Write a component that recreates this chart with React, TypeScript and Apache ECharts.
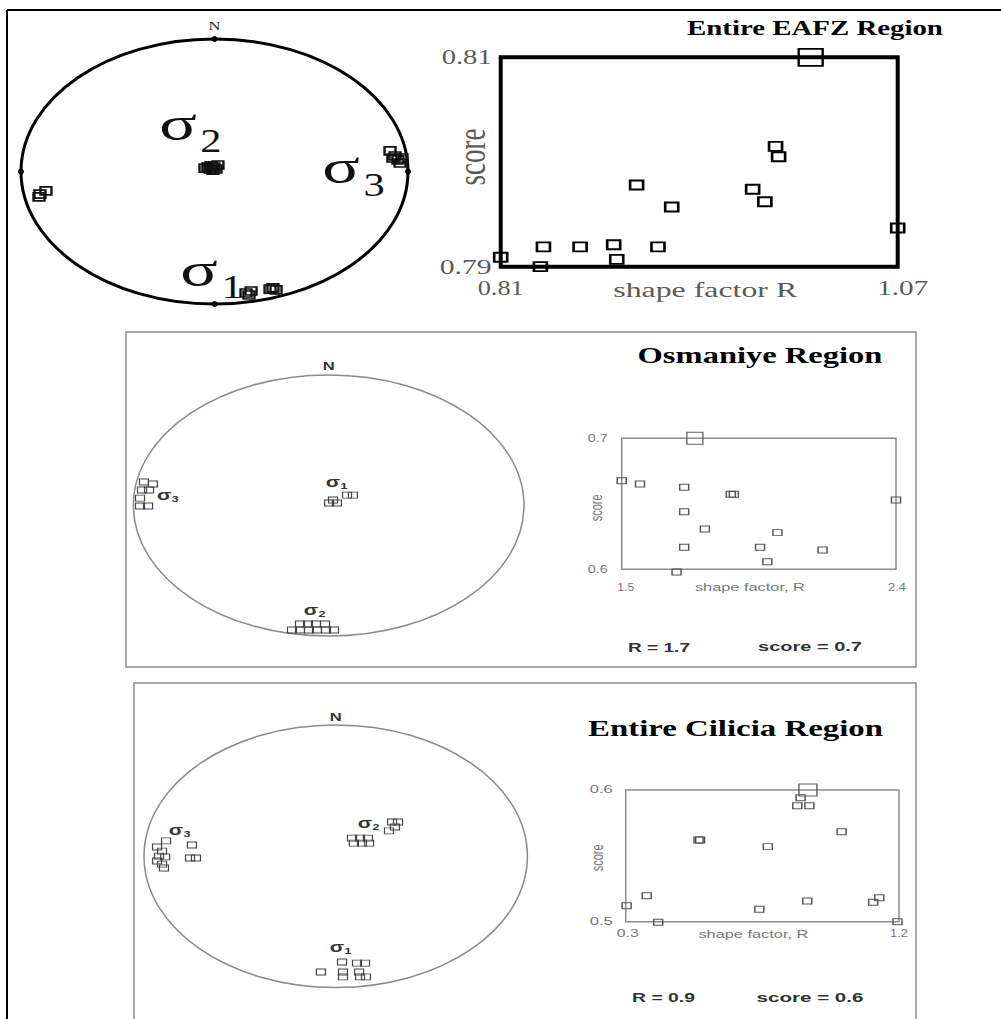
import React, { useEffect, useRef } from "react";
import * as echarts from "echarts";

// ---------------- Data ----------------
// Entire EAFZ Region: stress-inversion trials, shape factor R vs. score
const eafzR = [0.81, 0.836, 0.838, 0.862, 0.884, 0.886, 0.913, 0.899, 0.922, 0.975, 0.983, 0.99, 0.992, 1.07];
const eafzScore = [0.7909, 0.79, 0.7919, 0.7919, 0.7921, 0.7907, 0.7919, 0.7978, 0.7957, 0.7974, 0.7962, 0.8015, 0.8005, 0.7937];
const eafzBest = [1.013, 0.81];
const eafzXTicks = [0.81, 1.07];
const eafzYTicks = [0.79, 0.81];

// EAFZ stereonet: principal stress axes (net coordinates, x = east, y = north)
const eafzSigma1 = [[0.163, -0.917], [0.189, -0.902], [0.178, -0.932], [0.287, -0.887], [0.318, -0.894], [0.302, -0.879]];
const eafzSigma2 = [[-0.049, 0.026], [-0.034, 0.034], [-0.018, 0.042], [-0.003, 0.034], [0.018, 0.049], [0.008, 0.019], [-0.023, 0.019], [-0.008, 0.011]];
const eafzSigma3 = [[0.907, 0.155], [0.933, 0.117], [0.948, 0.087], [0.959, 0.064], [0.922, 0.102], [0.969, 0.102], [-0.907, -0.192], [-0.871, -0.147], [-0.902, -0.17]];

// Osmaniye Region
const osmR = [1.5, 1.56, 1.705, 1.705, 1.705, 1.68, 1.773, 1.858, 1.868, 1.954, 1.978, 2.011, 2.159, 2.4];
const osmScore = [0.6676, 0.6651, 0.6626, 0.644, 0.6168, 0.598, 0.6308, 0.6573, 0.6573, 0.6168, 0.6058, 0.628, 0.6147, 0.6529];
const osmBest = [1.74, 0.7];
const osmXTicks = [1.5, 2.4];
const osmYTicks = [0.6, 0.7];

const osmSigma1 = [[0.094, 0.08], [0.124, 0.08], [0.002, 0.019], [0.042, 0.019], [0.022, 0.042]];
const osmSigma2 = [[-0.147, -0.908], [-0.106, -0.908], [-0.065, -0.908], [-0.019, -0.908], [-0.188, -0.954], [-0.147, -0.954], [-0.101, -0.954], [-0.06, -0.954], [-0.014, -0.954], [0.027, -0.954]];
const osmSigma3 = [[-0.946, 0.18], [-0.9, 0.165], [-0.956, 0.119], [-0.92, 0.119], [-0.966, 0.057], [-0.966, -0.004], [-0.925, -0.004]];

// Entire Cilicia Region
const cilR = [0.303, 0.369, 0.407, 0.54, 0.545, 0.74, 0.768, 0.876, 0.865, 0.905, 0.898, 1.011, 1.115, 1.135, 1.195];
const cilScore = [0.5121, 0.5197, 0.4995, 0.562, 0.562, 0.5094, 0.557, 0.5942, 0.588, 0.588, 0.5157, 0.5683, 0.5147, 0.5182, 0.5];
const cilBest = [0.9, 0.6];
const cilXTicks = [0.3, 1.2];
const cilYTicks = [0.5, 0.6];

const cilSigma1 = [[-0.077, -0.881], [0.033, -0.805], [0.111, -0.813], [0.153, -0.813], [0.038, -0.881], [0.122, -0.881], [0.038, -0.919], [0.127, -0.919], [0.158, -0.919]];
const cilSigma2 = [[0.085, 0.139], [0.127, 0.139], [0.168, 0.139], [0.095, 0.101], [0.137, 0.101], [0.174, 0.101], [0.294, 0.261], [0.325, 0.261], [0.309, 0.223], [0.278, 0.193]];
const cilSigma3 = [[-0.885, 0.117], [-0.932, 0.071], [-0.906, 0.04], [-0.922, 0.002], [-0.89, -0.005], [-0.932, -0.036], [-0.906, -0.059], [-0.896, -0.089], [-0.75, 0.086], [-0.76, -0.013], [-0.729, -0.013]];

// ---------------- Layout ----------------
const SERIF = '"Liberation Serif", "Times New Roman", serif';
const SANS = '"Liberation Sans", Arial, sans-serif';

type Net = { cx: number; cy: number; rx: number; ry: number };
type Box = { left: number; top: number; width: number; height: number };

const netEafz: Net = { cx: 214.5, cy: 171.5, rx: 193.5, ry: 132.5 };
const netOsm: Net = { cx: 328.7, cy: 505.5, rx: 195.3, ry: 130.5 };
const netCil: Net = { cx: 335.7, cy: 856.3, rx: 191.7, ry: 131.3 };

const boxEafz: Box = { left: 500.7, top: 57.3, width: 397, height: 209.4 };
const boxOsm: Box = { left: 621.7, top: 438.3, width: 274.3, height: 131 };
const boxCil: Box = { left: 625.7, top: 790, width: 273.3, height: 131.7 };

// sigma label anchors in net coordinates
const eafzLabelAt: [string, number, number][] = [["1", -0.08, -0.781], ["2", -0.189, 0.321], ["3", 0.654, -0.004]];
const osmLabelAt: [string, number, number][] = [["1", 0.022, 0.18], ["2", -0.091, -0.801], ["3", -0.843, 0.08]];
const cilLabelAt: [string, number, number][] = [["1", 0.007, -0.691], ["2", 0.153, 0.254], ["3", -0.833, 0.2]];

let measureCtx: CanvasRenderingContext2D | null = null;
function textWidth(text: string, font: string): number {
  if (!measureCtx) measureCtx = document.createElement("canvas").getContext("2d");
  if (!measureCtx) return 0;
  measureCtx.font = font;
  return measureCtx.measureText(text).width;
}

function txt(
  text: string,
  x: number,
  y: number,
  font: string,
  fill: string,
  opts: { width?: number; sx?: number; align?: string; rotate?: number; stretch?: number } = {}
): any {
  const align = opts.align || "center";
  let sx = opts.sx || 1;
  if (opts.width) {
    const w = textWidth(text, font);
    if (w > 0) sx = opts.width / w;
  }
  const rot = opts.rotate || 0;
  return {
    type: "text",
    x,
    y,
    rotation: rot,
    scaleX: rot ? 1 : sx,
    scaleY: rot ? opts.stretch || 1 : 1,
    silent: true,
    z: 20,
    style: { text, font, fill, align, textAlign: align, verticalAlign: "middle", textVerticalAlign: "middle" },
  };
}

function netGrid(n: Net) {
  return { left: n.cx - n.rx, top: n.cy - n.ry, width: 2 * n.rx, height: 2 * n.ry, show: false };
}
function boxGrid(b: Box, color: string, width: number) {
  return { ...b, show: true, borderColor: color, borderWidth: width, backgroundColor: "transparent" };
}

function outline(gi: number, stroke: string, lineWidth: number, dots: boolean): any {
  return {
    type: "custom",
    xAxisIndex: gi,
    yAxisIndex: gi,
    data: [[0, 0]],
    silent: true,
    clip: false,
    z: 1,
    renderItem: (_p: any, api: any) => {
      const a = api.coord([-1, 1]);
      const b = api.coord([1, -1]);
      const cx = (a[0] + b[0]) / 2;
      const cy = (a[1] + b[1]) / 2;
      const rx = (b[0] - a[0]) / 2;
      const ry = (b[1] - a[1]) / 2;
      const children: any[] = [
        { type: "ellipse", shape: { cx, cy, rx, ry }, style: { fill: "none", stroke, lineWidth } },
      ];
      if (dots) {
        [[0, 1], [1, 0], [0, -1], [-1, 0]].forEach((d) => {
          const p = api.coord(d);
          children.push({ type: "circle", shape: { cx: p[0], cy: p[1], r: 3 }, style: { fill: "#000" } });
        });
      }
      return { type: "group", children };
    },
  };
}

function squares(gi: number, data: number[][], size: number[], stroke: string, lw: number): any {
  return {
    type: "scatter",
    xAxisIndex: gi,
    yAxisIndex: gi,
    data,
    symbol: "rect",
    symbolSize: size,
    clip: false,
    silent: true,
    z: 5,
    itemStyle: { color: "rgba(0,0,0,0)", borderColor: stroke, borderWidth: lw, opacity: 1 },
  };
}

function sigmaTexts(
  n: Net,
  labels: [string, number, number][],
  big: { font: string; sx: number; drop: number },
  sub: { font: string; sx: number; dx: number; dy: number },
  fill: string
) {
  const out: any[] = [];
  labels.forEach(([s, nx, ny]) => {
    const px = n.cx + nx * n.rx;
    const py = n.cy - ny * n.ry;
    out.push(txt("σ", px, py - big.drop, big.font, fill, { sx: big.sx }));
    out.push(txt(s, px + sub.dx, py + sub.dy, sub.font, fill, { sx: sub.sx }));
  });
  return out;
}

function plotTexts(
  b: Box,
  xt: number[],
  yt: number[],
  digits: number,
  c: {
    font: string;
    fill: string;
    yDx: number;
    yW: number[];
    xDy: number;
    xDx: number[];
    xW: number[];
    nameFont: string;
    nameText: string;
    nameDx: number;
    nameDy: number;
    nameW: number;
    scoreFont: string;
    scoreDx: number;
    scoreDy: number;
    scoreStretch: number;
  }
) {
  const out: any[] = [];
  const bottom = b.top + b.height;
  const right = b.left + b.width;
  out.push(txt(yt[1].toFixed(digits), b.left + c.yDx, b.top, c.font, c.fill, { width: c.yW[1], align: "right" }));
  out.push(txt(yt[0].toFixed(digits), b.left + c.yDx, bottom, c.font, c.fill, { width: c.yW[0], align: "right" }));
  out.push(txt(xt[0].toFixed(digits), b.left + c.xDx[0], bottom + c.xDy, c.font, c.fill, { width: c.xW[0] }));
  out.push(txt(xt[1].toFixed(digits), right + c.xDx[1], bottom + c.xDy, c.font, c.fill, { width: c.xW[1] }));
  out.push(txt(c.nameText, b.left + b.width / 2 + c.nameDx, bottom + c.nameDy, c.nameFont, c.fill, { width: c.nameW }));
  out.push(
    txt("score", b.left + c.scoreDx, b.top + b.height / 2 + c.scoreDy, c.scoreFont, c.fill, {
      rotate: Math.PI / 2,
      stretch: c.scoreStretch,
    })
  );
  return out;
}

function buildOption(): any {
  const pts = (xs: number[], ys: number[]) => xs.map((x, i) => [x, ys[i]]);

  const grids = [
    netGrid(netEafz),
    boxGrid(boxEafz, "#000", 4),
    netGrid(netOsm),
    boxGrid(boxOsm, "#8c8c8c", 1.5),
    netGrid(netCil),
    boxGrid(boxCil, "#8c8c8c", 1.5),
  ];
  const ranges = [
    [[-1, 1], [-1, 1]],
    [eafzXTicks, eafzYTicks],
    [[-1, 1], [-1, 1]],
    [osmXTicks, osmYTicks],
    [[-1, 1], [-1, 1]],
    [cilXTicks, cilYTicks],
  ];
  const xAxis = ranges.map((r, i) => ({ type: "value", gridIndex: i, min: r[0][0], max: r[0][1], show: false }));
  const yAxis = ranges.map((r, i) => ({ type: "value", gridIndex: i, min: r[1][0], max: r[1][1], show: false }));

  const series: any[] = [
    outline(0, "#000", 3, true),
    squares(0, eafzSigma1, [11, 8], "#111", 2),
    squares(0, eafzSigma2, [11, 8], "#111", 2),
    squares(0, eafzSigma3, [11, 8], "#111", 2),
    squares(1, pts(eafzR, eafzScore), [13, 9], "#000", 2.2),
    squares(1, [eafzBest], [24, 17], "#000", 2),
    outline(2, "#8a8a8a", 1.5, false),
    squares(2, osmSigma1, [9, 6], "#444", 1),
    squares(2, osmSigma2, [9, 6], "#444", 1),
    squares(2, osmSigma3, [9, 6], "#444", 1),
    squares(3, pts(osmR, osmScore), [9, 6], "#555", 1.2),
    squares(3, [osmBest], [16, 12], "#666", 1.2),
    outline(4, "#8a8a8a", 1.5, false),
    squares(4, cilSigma1, [9, 6], "#444", 1),
    squares(4, cilSigma2, [9, 6], "#444", 1),
    squares(4, cilSigma3, [9, 6], "#444", 1),
    squares(5, pts(cilR, cilScore), [9, 6], "#555", 1.2),
    squares(5, [cilBest], [18, 12], "#666", 1.2),
  ];

  const g: any[] = [];
  // outer frame and panel frames
  g.push({ type: "line", shape: { x1: 7, y1: 10, x2: 1001, y2: 10 }, style: { stroke: "#000", lineWidth: 2 }, silent: true });
  g.push({ type: "line", shape: { x1: 7, y1: 10, x2: 7, y2: 1019 }, style: { stroke: "#000", lineWidth: 2 }, silent: true });
  g.push({ type: "rect", shape: { x: 126, y: 332, width: 790, height: 335 }, style: { fill: "none", stroke: "#a8a8a8", lineWidth: 2 }, silent: true });
  g.push({ type: "rect", shape: { x: 134, y: 683, width: 782, height: 360 }, style: { fill: "none", stroke: "#a8a8a8", lineWidth: 2 }, silent: true });

  // --- Entire EAFZ Region ---
  g.push(txt("N", netEafz.cx, netEafz.cy - netEafz.ry - 13, `12px ${SERIF}`, "#222", { width: 12 }));
  g.push(...sigmaTexts(netEafz, eafzLabelAt, { font: `48px ${SERIF}`, sx: 1.45, drop: 5 }, { font: `34px ${SERIF}`, sx: 1.25, dx: 33, dy: 12 }, "#111"));
  g.push(txt("Entire EAFZ Region", 815, 28, `bold 21px ${SERIF}`, "#000", { width: 256 }));
  g.push(
    ...plotTexts(boxEafz, eafzXTicks, eafzYTicks, 2, {
      font: `20px ${SERIF}`,
      fill: "#5a5a5a",
      yDx: -9,
      yW: [52, 50],
      xDy: 21,
      xDx: [0, 5],
      xW: [46, 51],
      nameFont: `21px ${SERIF}`,
      nameText: "shape factor R",
      nameDx: 6,
      nameDy: 23,
      nameW: 184,
      scoreFont: `27px ${SERIF}`,
      scoreDx: -29,
      scoreDy: -5,
      scoreStretch: 1.45,
    })
  );

  // --- Osmaniye Region ---
  g.push(txt("N", netOsm.cx, netOsm.cy - netOsm.ry - 9, `bold 11px ${SANS}`, "#333", { width: 12 }));
  g.push(...sigmaTexts(netOsm, osmLabelAt, { font: `bold 14px ${SANS}`, sx: 1.5, drop: 0 }, { font: `bold 9px ${SANS}`, sx: 1.4, dx: 11, dy: 4 }, "#333"));
  g.push(txt("Osmaniye Region", 760, 355, `bold 24px ${SERIF}`, "#000", { width: 245 }));
  g.push(
    ...plotTexts(boxOsm, osmXTicks, osmYTicks, 1, {
      font: `10px ${SANS}`,
      fill: "#777",
      yDx: -14,
      yW: [20, 20],
      xDy: 18,
      xDx: [4, 1],
      xW: [17, 18],
      nameFont: `11px ${SANS}`,
      nameText: "shape factor, R",
      nameDx: -9,
      nameDy: 18,
      nameW: 110,
      scoreFont: `11px ${SANS}`,
      scoreDx: -25,
      scoreDy: 4,
      scoreStretch: 1.45,
    })
  );
  g.push(txt(`R = ${osmBest[0].toFixed(1)}`, 659, 647, `bold 13px ${SANS}`, "#333", { width: 62 }));
  g.push(txt(`score = ${osmBest[1].toFixed(1)}`, 810, 647, `bold 13px ${SANS}`, "#333", { width: 104 }));

  // --- Entire Cilicia Region ---
  g.push(txt("N", netCil.cx, netCil.cy - netCil.ry - 8, `bold 11px ${SANS}`, "#333", { width: 12 }));
  g.push(...sigmaTexts(netCil, cilLabelAt, { font: `bold 14px ${SANS}`, sx: 1.5, drop: 0 }, { font: `bold 9px ${SANS}`, sx: 1.4, dx: 11, dy: 4 }, "#333"));
  g.push(txt("Entire Cilicia Region", 735.5, 728, `bold 23px ${SERIF}`, "#000", { width: 295 }));
  g.push(
    ...plotTexts(boxCil, cilXTicks, cilYTicks, 1, {
      font: `10px ${SANS}`,
      fill: "#777",
      yDx: -13,
      yW: [23, 23],
      xDy: 12,
      xDx: [2, 0],
      xW: [22, 18],
      nameFont: `11px ${SANS}`,
      nameText: "shape factor, R",
      nameDx: -9,
      nameDy: 12,
      nameW: 110,
      scoreFont: `11px ${SANS}`,
      scoreDx: -28,
      scoreDy: 2,
      scoreStretch: 1.45,
    })
  );
  g.push(txt(`R = ${cilBest[0].toFixed(1)}`, 663.5, 997, `bold 13px ${SANS}`, "#333", { width: 63 }));
  g.push(txt(`score = ${cilBest[1].toFixed(1)}`, 810, 997, `bold 13px ${SANS}`, "#333", { width: 107 }));

  return {
    animation: false,
    backgroundColor: "#fff",
    grid: grids,
    xAxis,
    yAxis,
    series,
    graphic: { elements: g },
  };
}

export default function App() {
  const ref = useRef<HTMLDivElement>(null);
  useEffect(() => {
    if (!ref.current) return;
    const chart = echarts.init(ref.current, undefined, { renderer: "svg" });
    chart.setOption(buildOption());
    return () => chart.dispose();
  }, []);
  return (
    <div
      ref={ref}
      style={{ position: "absolute", left: 0, top: 0, width: 1001, height: 1019, background: "#fff" }}
    />
  );
}
